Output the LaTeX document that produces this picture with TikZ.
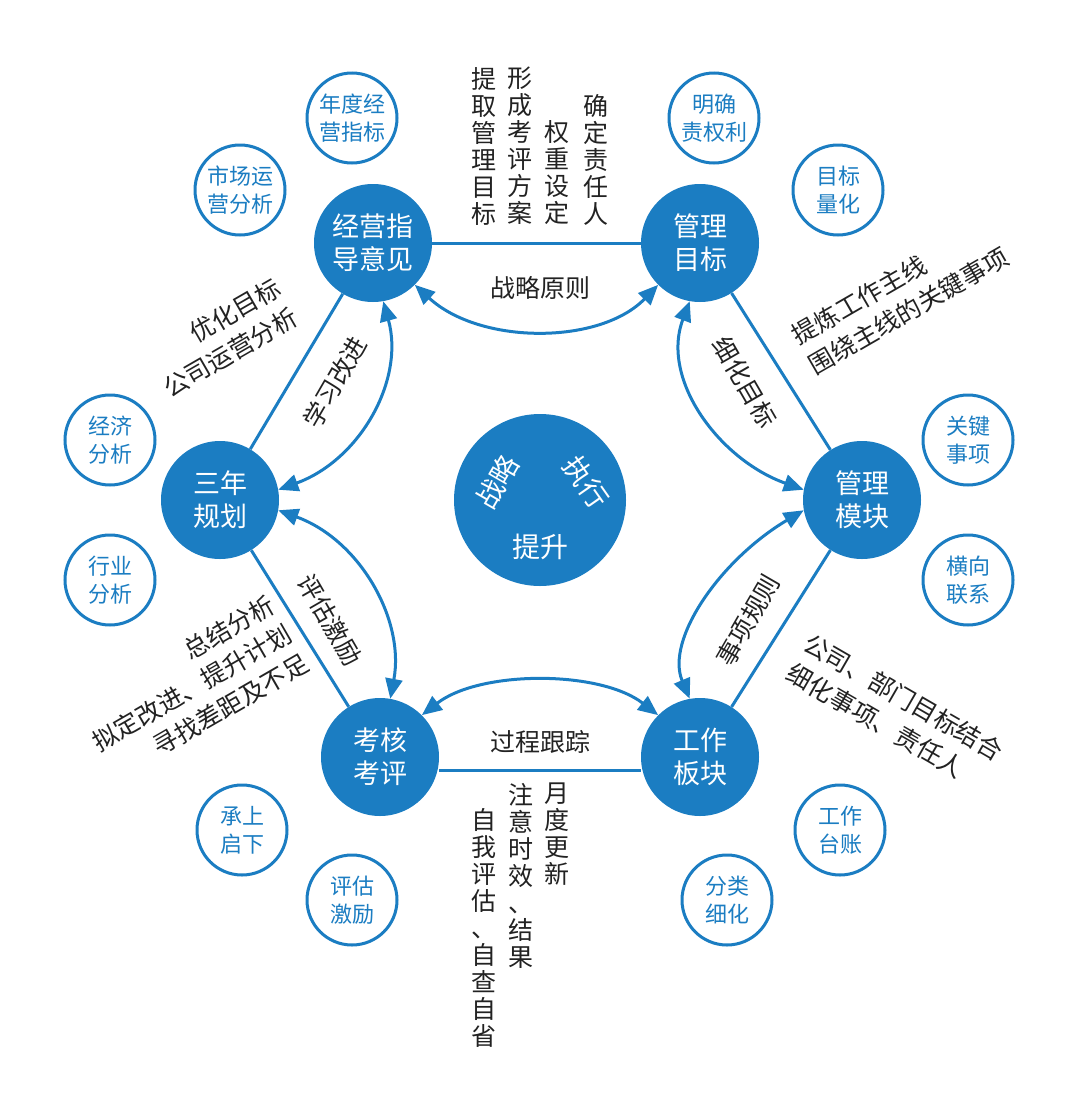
\documentclass[tikz,border=0pt]{standalone}
\usepackage{fontspec}
\setmainfont{Noto Sans CJK SC}
\usetikzlibrary{arrows.meta,backgrounds}
\definecolor{bl}{HTML}{1B7DC2}
\definecolor{tx}{HTML}{222222}
\begin{document}
\begin{tikzpicture}[x=1pt,y=-1pt,
 big/.style={circle,fill=bl,minimum size=118pt,inner sep=0pt,text=white,font=\fontsize{27}{33}\selectfont,align=center},
 sm/.style={circle,draw=bl,line width=3pt,fill=white,minimum size=90pt,inner sep=0pt,text=bl,font=\fontsize{22}{28}\selectfont,align=center},
 ln/.style={bl,line width=3pt},
 arr/.style={bl,line width=3pt,{Triangle[length=20pt,width=17pt]}-{Triangle[length=20pt,width=17pt]}},
 lab/.style={text=tx,font=\fontsize{25}{30}\selectfont,inner sep=1pt},
 vt/.style={text=tx,font=\fontsize{25}{27}\selectfont,align=center,anchor=north,inner sep=0pt}]
\useasboundingbox (0,0) rectangle (1080,1095);
\node[big] (jy) at (373,243) {经营指\\导意见};
\node[big] (gm) at (700,243) {管理\\目标};
\node[big] (sn) at (220,500) {三年\\规划};
\node[big] (mk) at (862,500) {管理\\模块};
\node[big] (kh) at (380,757) {考核\\考评};
\node[big] (gz) at (700,757) {工作\\板块};
\node[circle,fill=bl,minimum size=172pt] (c) at (540,500) {};
\node[text=white,font=\fontsize{28}{30}\selectfont,rotate=60,inner sep=0pt] (c1) at (497,482) {战略};
\node[text=white,font=\fontsize{28}{30}\selectfont,rotate=-55,inner sep=0pt] (c2) at (586,482) {执行};
\node[text=white,font=\fontsize{28}{30}\selectfont] (c3) at (540,547) {提升};
\node[sm] (s1) at (352,118) {年度经\\营指标};
\node[sm] (s2) at (240,190) {市场运\\营分析};
\node[sm] (s3) at (714,118) {明确\\责权利};
\node[sm] (s4) at (838,190) {目标\\量化};
\node[sm] (s5) at (110,440) {经济\\分析};
\node[sm] (s6) at (110,580) {行业\\分析};
\node[sm] (s7) at (968,440) {关键\\事项};
\node[sm] (s8) at (968,580) {横向\\联系};
\node[sm] (s9) at (242,830) {承上\\启下};
\node[sm] (s10) at (352,900) {评估\\激励};
\node[sm] (s11) at (840,830) {工作\\台账};
\node[sm] (s12) at (727,900) {分类\\细化};
\begin{pgfonlayer}{background}
\draw[ln] (jy.east) -- (gm.west);
\draw[ln] (gm) -- (mk);
\draw[ln] (mk) -- (gz);
\draw[ln] ([yshift=-13pt]kh.east) -- ([yshift=-13pt]gz.west);
\draw[ln] (kh) -- (sn);
\draw[ln] (sn) -- (jy);
\end{pgfonlayer}
\draw[arr] (jy.-45) .. controls (480,345) and (600,345) .. (gm.-135);
\draw[arr] (gm.-100) .. controls (660,380) and (720,460) .. (mk.170);
\draw[arr] (mk.-170) .. controls (720,560) and (665,640) .. (gz.100);
\draw[arr] (gz.135) .. controls (600,670) and (480,670) .. (kh.45);
\draw[arr] (sn.-10) .. controls (360,540) and (405,620) .. (kh.80);
\draw[arr] (jy.-80) .. controls (405,380) and (360,460) .. (sn.10);
\node[lab] (l1) at (540,288) {战略原则};
\node[lab,rotate=-60] (l2) at (745,382) {细化目标};
\node[lab,rotate=60] (l3) at (748,620) {事项规则};
\node[lab] (l4) at (540,742) {过程跟踪};
\node[lab,rotate=-60] (l5) at (330,620) {评估激励};
\node[lab,rotate=60] (l6) at (335,382) {学习改进};
\node[vt] (t1) at (484,67) {提\\取\\管\\理\\目\\标};
\node[vt] (t2) at (520,67) {形\\成\\考\\评\\方\\案};
\node[vt] (t3) at (557,120) {权\\重\\设\\定};
\node[vt] (t4) at (596,94) {确\\定\\责\\任\\人};
\node[vt] (b1) at (484,808) {自\\我\\评\\估\\、\\自\\查\\自\\省};
\node[vt] (b2) at (521,783) {注\\意\\时\\效\\、\\结\\果};
\node[vt] (b3) at (557,783) {月\\度\\更\\新};
\node[lab,rotate=30,align=right,font=\fontsize{25}{34}\selectfont] (r1) at (222,338) {优化目标\\公司运营分析};
\node[lab,rotate=30,align=left,font=\fontsize{25}{34}\selectfont] (r2) at (900,296) {提炼工作主线\\围绕主线的关键事项};
\node[lab,rotate=-30,align=left,font=\fontsize{25}{34}\selectfont] (r3) at (895,712) {公司、部门目标结合\\细化事项、责任人};
\node[lab,rotate=30,align=right,font=\fontsize{25}{34}\selectfont] (r4) at (192,688) {总结分析\\拟定改进、提升计划\\寻找差距及不足};
\end{tikzpicture}
\end{document}
